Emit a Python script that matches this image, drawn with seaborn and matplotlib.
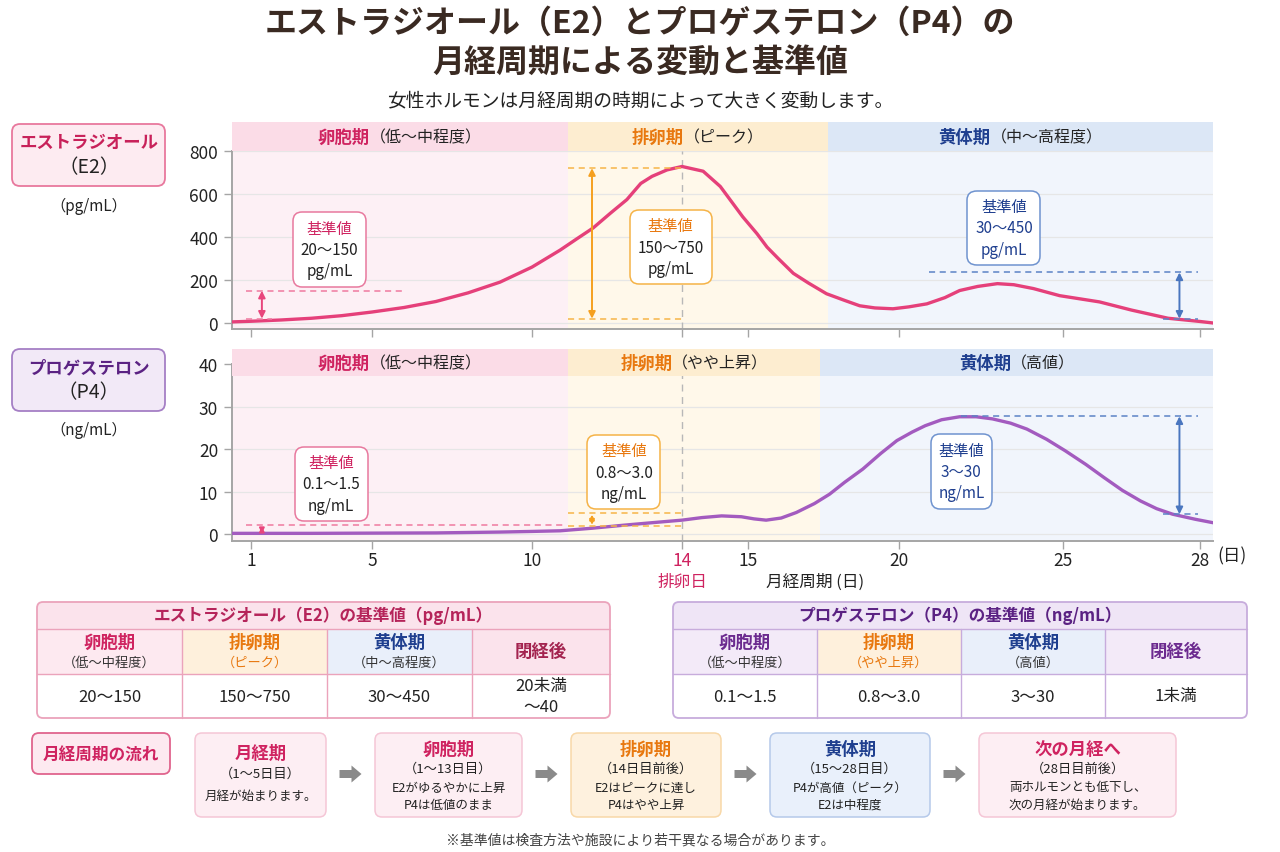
import numpy as np
import pandas as pd
import matplotlib
matplotlib.use("Agg")
import matplotlib.pyplot as plt
import seaborn as sns
from matplotlib.patches import FancyBboxPatch, Rectangle, FancyArrow
from matplotlib.transforms import Affine2D, blended_transform_factory
from matplotlib.offsetbox import TextArea, VPacker, HPacker, AnnotationBbox

# ---- values ----
day_ticks = [1, 5, 10, 14, 15, 20, 25, 28]

e2_days = [0.45, 1, 2, 3, 4, 5, 6, 7, 8, 9, 10, 10.75, 11.2, 11.63, 12.1, 12.53, 12.9, 13.2,
           13.6, 14, 14.32, 14.58, 14.92, 15.3, 15.63, 16, 16.5, 17, 17.6, 18.2, 18.7, 19.2,
           19.8, 20.3, 20.85, 21.4, 21.85, 22.4, 23, 23.5, 24.1, 24.9, 25.8, 26.5, 27.3, 28, 28.4]
e2_vals = [5, 8, 14, 22, 34, 51, 72, 100, 140, 190, 260, 339, 392, 442, 512, 574, 649, 682,
           712, 728, 706, 635, 494, 415, 353, 300, 231, 186, 136, 105, 80, 70,
           66, 75, 89, 118, 151, 170, 183, 178, 160, 127, 98, 60, 22, 7, 0]

p4_days = [0.45, 1, 3, 5, 7, 8, 9, 10, 10.75, 11.6, 12.43, 13.2, 14, 14.3, 14.6, 14.9, 15.2,
           15.6, 16.1, 16.6, 17.2, 17.7, 18.2, 18.8, 19.4, 19.93, 20.4, 20.8, 21.3, 21.85,
           22.35, 22.85, 23.4, 23.9, 24.5, 25.05, 25.5, 25.9, 26.3, 26.7, 27.05, 27.4, 27.9, 28.4]
p4_vals = [0.2, 0.2, 0.2, 0.25, 0.3, 0.4, 0.5, 0.65, 0.8, 1.4, 2.1, 2.7, 3.3, 3.9, 4.3, 4.1, 3.6,
           3.3, 3.8, 5.1, 7.2, 9.4, 12.2, 15.3, 19.0, 22.0, 24.0, 25.5, 26.9, 27.6,
           27.6, 27.1, 26.1, 24.7, 22.3, 19.6, 16.4, 13.3, 10.3, 7.8, 6.0, 4.7, 3.5, 2.7]

phase_names = ["卵胞期", "排卵期", "黄体期"]
e2_notes = ["（低〜中程度）", "（ピーク）", "（中〜高程度）"]
p4_notes = ["（低〜中程度）", "（やや上昇）", "（高値）"]
e2_edges = [0.45, 10.96, 17.65, 28.4]
p4_edges = [0.45, 10.96, 17.4, 28.4]

table_cols = ["卵胞期", "排卵期", "黄体期", "閉経後"]
e2_col_notes = ["（低〜中程度）", "（ピーク）", "（中〜高程度）", ""]
p4_col_notes = ["（低〜中程度）", "（やや上昇）", "（高値）", ""]
e2_ref = ["20〜150", "150〜750", "30〜450", "20未満\n〜40"]
p4_ref = ["0.1〜1.5", "0.8〜3.0", "3〜30", "1未満"]

flow_titles = ["月経期", "卵胞期", "排卵期", "黄体期", "次の月経へ"]
flow_days = ["（1〜5日目）", "（1〜13日目）", "（14日目前後）", "（15〜28日目）", "（28日目前後）"]
flow_notes = [["月経が始まります。"],
              ["E2がゆるやかに上昇", "P4は低値のまま"],
              ["E2はピークに達し", "P4はやや上昇"],
              ["P4が高値（ピーク）", "E2は中程度"],
              ["両ホルモンとも低下し、", "次の月経が始まります。"]]

# ---- style ----
sns.set_theme(style="white")
plt.rcParams["font.family"] = ["Noto Sans CJK JP", "DejaVu Sans"]

CRIMSON = "#cf2360"
ORANGE = "#e8780f"
NAVY = "#1f3f8f"
PURPLE = "#5b2283"
DARK = "#222222"
band_bg = ["#fdf0f5", "#fff8ea", "#f1f5fc"]
band_head = ["#fbdce7", "#fdedd0", "#dce7f6"]
phase_color = [CRIMSON, ORANGE, NAVY]

W, H = 1280, 853
fig = plt.figure(figsize=(W / 100, H / 100), dpi=100, facecolor="white")
# pixel coords, origin top-left
PX = Affine2D().scale(0.01, -0.01).translate(0, H / 100) + fig.dpi_scale_trans


def rbox(x0, y0, x1, y1, fc, ec, lw=1.0, r=6, z=1):
    fig.add_artist(FancyBboxPatch((x0, y0), x1 - x0, y1 - y0,
                                  boxstyle=f"round,pad=0,rounding_size={r}",
                                  fc=fc, ec=ec, lw=lw, transform=PX, zorder=z))


def rect(x0, y0, x1, y1, fc, z=2):
    fig.add_artist(Rectangle((x0, y0), x1 - x0, y1 - y0, fc=fc, ec="none",
                             transform=PX, zorder=z))


def line(x0, y0, x1, y1, color, lw=1.0):
    fig.add_artist(plt.Line2D([x0, x1], [y0, y1], color=color, lw=lw,
                              transform=PX, zorder=3))


def ftext(x, y, s, size=10, color=DARK, weight="normal", ha="center", va="center", z=5):
    fig.text(x, y, s, transform=PX, fontsize=size, color=color, fontweight=weight,
             ha=ha, va=va, zorder=z, linespacing=1.25)


def px_axes(x0, y0, x1, y1):
    return fig.add_axes([x0 / W, 1 - y1 / H, (x1 - x0) / W, (y1 - y0) / H])


# the reference uses an uneven day axis (ovulation day stretched)
scale_days = [0.45, 1, 5, 10, 14, 15, 20, 25, 28, 28.4]
scale_px = [232, 251, 372, 532, 682, 748, 899, 1063, 1200, 1213]


def fwd(d):
    return np.interp(d, scale_days, scale_px)


def inv(p):
    return np.interp(p, scale_px, scale_days)


def draw_panel(ax, days, vals, color, ylim, yticks, edges, notes, head):
    for i in range(3):
        ax.axvspan(edges[i], edges[i + 1], color=band_bg[i], lw=0, zorder=0)
    sns.lineplot(x=days, y=vals, ax=ax, color=color, linewidth=2.4, zorder=6)
    ax.set_xscale("function", functions=(fwd, inv))
    ax.set_xlim(0.45, 28.4)
    ax.set_ylim(*ylim)
    ax.set_yticks(yticks)
    ax.set_xticks(day_ticks)
    ax.set_xticklabels([str(d) for d in day_ticks])
    ax.set_xlabel("")
    ax.set_ylabel("")
    ax.set_facecolor("white")
    ax.set_axisbelow(True)
    ax.yaxis.grid(True, color="#e6e6e6", lw=0.9)
    ax.xaxis.grid(False)
    for s in ["top", "right"]:
        ax.spines[s].set_visible(False)
    for s in ["left", "bottom"]:
        ax.spines[s].set_color("#a5a5a5")
        ax.spines[s].set_linewidth(1.4)
    ax.tick_params(axis="both", bottom=True, left=True, length=6, width=1,
                   color="#a5a5a5", labelsize=12.5, labelcolor=DARK, pad=4)
    ax.tick_params(axis="x", pad=1)
    ax.axvline(14, color="#b8b8b8", ls=(0, (5, 4)), lw=1, zorder=2)

    tr = blended_transform_factory(ax.transData, ax.transAxes)
    for i in range(3):
        ax.add_patch(Rectangle((edges[i], head[0]), edges[i + 1] - edges[i], head[1] - head[0],
                               transform=tr, fc=band_head[i], ec="none", clip_on=False, zorder=4))
        cx = float(inv((fwd(edges[i]) + fwd(edges[i + 1])) / 2))
        lab = HPacker(children=[
            TextArea(phase_names[i], textprops=dict(fontsize=12.5, fontweight="bold", color=phase_color[i])),
            TextArea(notes[i], textprops=dict(fontsize=11.5, color=DARK))],
            align="baseline", pad=0, sep=0)
        ax.add_artist(AnnotationBbox(lab, (cx, (head[0] + head[1]) / 2), xycoords=tr,
                                     frameon=False, box_alignment=(0.5, 0.5), zorder=5,
                                     annotation_clip=False))


def ref_box(ax, x, y, lines, head_color, text_color, edge):
    kids = [TextArea("基準値", textprops=dict(fontsize=11, color=head_color))]
    kids += [TextArea(s, textprops=dict(fontsize=11, color=text_color)) for s in lines]
    vp = VPacker(children=kids, align="center", pad=0, sep=3)
    ax.add_artist(AnnotationBbox(vp, (x, y), xycoords="data", frameon=True,
                                 box_alignment=(0.5, 0.5), zorder=8,
                                 bboxprops=dict(boxstyle="round,pad=0.5,rounding_size=0.6",
                                                fc="white", ec=edge, lw=1.1)))


def span_arrow(ax, x, y0, y1, color, ms=10):
    ax.annotate("", xy=(x, y1), xytext=(x, y0), zorder=7,
                arrowprops=dict(arrowstyle="<|-|>", color=color, lw=1.4,
                                shrinkA=0, shrinkB=0, mutation_scale=ms))


def dash(ax, y, x0, x1, color):
    ax.hlines(y, x0, x1, colors=color, linestyles=(0, (4, 3)), lw=1.1, zorder=7)


# ---- title ----
ftext(640, 24, "エストラジオール（E2）とプロゲステロン（P4）の", 23, "#3a2a22", "bold")
ftext(640, 64, "月経周期による変動と基準値", 23, "#3a2a22", "bold")
ftext(640, 101, "女性ホルモンは月経周期の時期によって大きく変動します。", 13.5, DARK)

# ---- E2 panel ----
ax_e2 = px_axes(232, 152, 1213, 330)
draw_panel(ax_e2, e2_days, e2_vals, "#e5407a", (-28, 800), [0, 200, 400, 600, 800],
           e2_edges, e2_notes, (1.0, 1.163))
ax_e2.tick_params(labelbottom=False)

dash(ax_e2, 150, 0.85, 6.0, "#ef7aa0")
dash(ax_e2, 20, 0.85, 1.7, "#ef7aa0")
span_arrow(ax_e2, 1.36, 20, 150, "#e8457c")
ref_box(ax_e2, 3.6, 343, ["20〜150", "pg/mL"], CRIMSON, DARK, "#e8799e")

dash(ax_e2, 720, 10.96, 14, "#f7b548")
dash(ax_e2, 20, 10.96, 14, "#f7b548")
span_arrow(ax_e2, 11.6, 20, 720, "#f5a01f")
ref_box(ax_e2, 13.7, 353, ["150〜750", "pg/mL"], ORANGE, DARK, "#f5b347")

dash(ax_e2, 235, 20.9, 27.95, "#5b83c6")
dash(ax_e2, 20, 27.2, 27.95, "#5b83c6")
span_arrow(ax_e2, 27.55, 20, 235, "#4a76bf")
ref_box(ax_e2, 23.2, 442, ["30〜450", "pg/mL"], NAVY, NAVY, "#6f93cf")

# ---- P4 panel ----
ax_p4 = px_axes(232, 365, 1213, 542)
draw_panel(ax_p4, p4_days, p4_vals, "#a35bbf", (-1.6, 40), [0, 10, 20, 30, 40],
           p4_edges, p4_notes, (0.932, 1.085))
ax_p4.get_xticklabels()[3].set_color(CRIMSON)

dash(ax_p4, 2.1, 0.85, 10.9, "#ef7aa0")
span_arrow(ax_p4, 1.36, 0.2, 1.8, "#e8457c", ms=7)
ref_box(ax_p4, 3.65, 11.8, ["0.1〜1.5", "ng/mL"], CRIMSON, DARK, "#e8799e")

dash(ax_p4, 5.0, 10.96, 14, "#f7b548")
dash(ax_p4, 2.0, 10.96, 14, "#f7b548")
span_arrow(ax_p4, 11.6, 2.2, 4.6, "#f5a01f", ms=7)
ref_box(ax_p4, 12.45, 14.6, ["0.8〜3.0", "ng/mL"], ORANGE, DARK, "#f5b347")

dash(ax_p4, 27.7, 21.9, 27.95, "#5b83c6")
dash(ax_p4, 4.7, 27.2, 27.95, "#5b83c6")
span_arrow(ax_p4, 27.55, 4.7, 27.7, "#4a76bf")
ref_box(ax_p4, 21.9, 14.8, ["3〜30", "ng/mL"], NAVY, NAVY, "#6f93cf")

ftext(1232, 556, "(日)", 12.5, DARK)
ftext(682, 582, "排卵日", 12, CRIMSON)
ftext(815, 582, "月経周期 (日)", 12, DARK)

# ---- left labels ----
rbox(12, 125, 165, 187, "#fdebf1", "#e8789d", 1.3, 8)
ftext(89, 143, "エストラジオール", 12.5, "#c8215a", "bold")
ftext(89, 168, "（E2）", 14, DARK)
ftext(89, 206, "（pg/mL）", 11, DARK)
rbox(12, 350, 165, 412, "#f2e9f7", "#a57fc5", 1.3, 8)
ftext(89, 368, "プロゲステロン", 12.5, PURPLE, "bold")
ftext(89, 393, "（P4）", 14, DARK)
ftext(89, 430, "（ng/mL）", 11, DARK)


# ---- reference tables ----
def ref_table(xs, title, notes, values, border, head_fc, title_color, fills, col_colors, note_colors):
    y0, y1, y2, y3 = 603, 630, 675, 719
    rbox(xs[0], y0, xs[-1], y3, "white", "none", 0, 6, z=1)
    rbox(xs[0], y0, xs[-1], y1 + 10, head_fc, "none", 0, 6, z=1.5)
    for i in range(4):
        rect(xs[i], y1, xs[i + 1], y2, fills[i])
        cx = (xs[i] + xs[i + 1]) / 2
        if notes[i]:
            ftext(cx, 643, table_cols[i], 12.5, col_colors[i], "bold")
            ftext(cx, 663, notes[i], 9.5, note_colors[i])
        else:
            ftext(cx, 652, table_cols[i], 12.5, col_colors[i], "bold")
        ftext(cx, 697, values[i], 12, DARK)
        if i > 0:
            line(xs[i], y1, xs[i], y3, border)
    line(xs[0], y1, xs[-1], y1, border)
    line(xs[0], y2, xs[-1], y2, border)
    rbox(xs[0], y0, xs[-1], y3, "none", border, 1.3, 6, z=4)
    ftext((xs[0] + xs[-1]) / 2, 616, title, 12, title_color, "bold")


ref_table([37, 182, 327, 472, 610], "エストラジオール（E2）の基準値（pg/mL）",
          e2_col_notes, e2_ref, "#eba3bb", "#fbe3ec", "#b5245a",
          ["#fde9f0", "#fef0dc", "#e9effa", "#fbe3ec"],
          [CRIMSON, ORANGE, NAVY, "#a3234f"], ["#333333", ORANGE, "#333333", DARK])
ref_table([673, 817, 961, 1105, 1247], "プロゲステロン（P4）の基準値（ng/mL）",
          p4_col_notes, p4_ref, "#c7acdc", "#efe5f6", PURPLE,
          ["#f3eaf8", "#fef0dc", "#e9effa", "#f3eaf8"],
          ["#6b2a8f", ORANGE, NAVY, "#6b2a8f"], ["#333333", ORANGE, "#333333", DARK])

# ---- cycle flow ----
rbox(32, 734, 170, 775, "#fde9f0", "#e0648d", 1.3, 7)
ftext(101, 754.5, "月経周期の流れ", 12, CRIMSON, "bold")

card_x = [(195, 326), (375, 522), (571, 721), (770, 930), (979, 1176)]
card_fc = ["#fdeef3", "#fdeef3", "#fef1de", "#e9f0fb", "#fdeef3"]
card_ec = ["#f5c6d6", "#f5c6d6", "#f8d8a8", "#b5c9ea", "#f5c6d6"]
card_tc = [CRIMSON, CRIMSON, ORANGE, NAVY, CRIMSON]
for i, (x0, x1) in enumerate(card_x):
    rbox(x0, 734, x1, 818, card_fc[i], card_ec[i], 1.1, 7)
    cx = (x0 + x1) / 2
    if len(flow_notes[i]) == 1:
        ftext(cx, 754, flow_titles[i], 12.5, card_tc[i], "bold")
        ftext(cx, 774, flow_days[i], 9.5, DARK)
        ftext(cx, 796, flow_notes[i][0], 9, DARK)
    else:
        ftext(cx, 750, flow_titles[i], 12.5, card_tc[i], "bold")
        ftext(cx, 769, flow_days[i], 9.5, DARK)
        ftext(cx, 788, flow_notes[i][0], 9, DARK)
        ftext(cx, 805, flow_notes[i][1], 9, DARK)
    if i < len(card_x) - 1:
        ax_mid = (x1 + card_x[i + 1][0]) / 2
        fig.add_artist(FancyArrow(ax_mid - 11, 775, 22, 0, width=8, head_width=17,
                                  head_length=10, length_includes_head=True,
                                  fc="#8a8a8a", ec="none", transform=PX, zorder=3))

ftext(640, 841, "※基準値は検査方法や施設により若干異なる場合があります。", 10, "#444444")

fig.savefig("out.png", dpi=100, facecolor="white")
